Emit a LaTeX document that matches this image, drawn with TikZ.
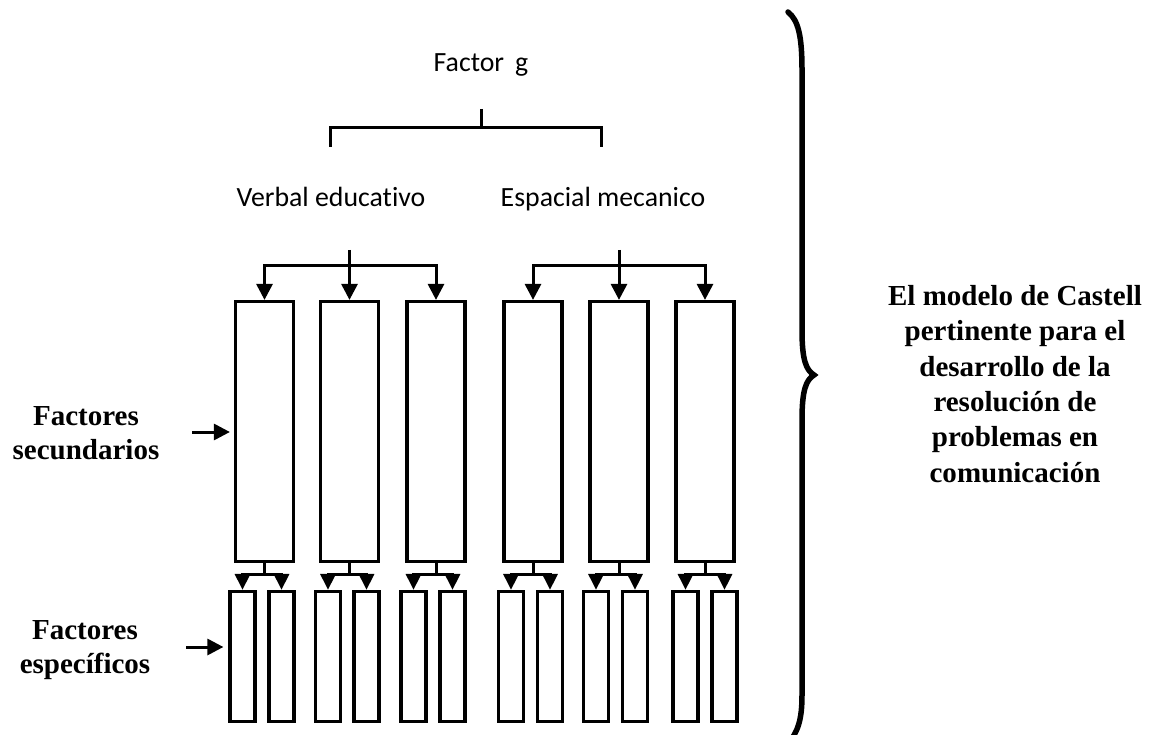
\documentclass[tikz,border=0pt]{standalone}
\usepackage{fontspec}
\setmainfont{Liberation Serif}
\newfontfamily\calibri[Ligatures=NoCommon]{Carlito}
\usetikzlibrary{arrows.meta}

\begin{document}
\begin{tikzpicture}[x=1pt, y=-1pt,
                factor/.style={font=\calibri\fontsize{27.8}{33}\selectfont, inner sep=0pt, anchor=base},
                etiqueta/.style={font=\bfseries\fontsize{29}{34}\selectfont, align=center, inner sep=0pt},
                secundario/.style={draw, line width=3.2pt, minimum width=58pt, minimum height=260pt, inner sep=0pt},
                especifico/.style={draw, line width=3.2pt, minimum width=25pt, minimum height=130pt, inner sep=0pt},
                linea/.style={line width=3pt},
                flecha/.style={line width=3pt, -{Triangle[length=16pt, width=16pt]}},
                flechita/.style={line width=3pt, -{Triangle[length=16pt, width=15pt]}}
            ]
            \useasboundingbox (0,0) rectangle (1154,735);

            % factor g y sus dos ramas
            \node[factor] (g) at (481,72) {Factor\hspace{0.4em}g};
            \node[factor] (verbal) at (331,207) {Verbal educativo};
            \node[factor] (espacial) at (603,207) {Espacial mecanico};
            \coordinate (gtallo) at (481,109);
            \coordinate (vpata) at (330,147);
            \coordinate (epata) at (601,147);
            \draw[linea] (gtallo) -- ++(0,19);
            \draw[linea] (vpata) -- ++(0,-19) -| (epata);

            % factores secundarios
            \node[secundario] (v1) at (264.5,431.5) {};
            \node[secundario] (v2) at (349.5,431.5) {};
            \node[secundario] (v3) at (436,431.5) {};
            \node[secundario] (e1) at (533,431.5) {};
            \node[secundario] (e2) at (619,431.5) {};
            \node[secundario] (e3) at (705,431.5) {};

            % factores especificos
            \node[especifico] (v1a) at (242.5,656.5) {};
            \node[especifico] (v1b) at (281.5,656.5) {};
            \node[especifico] (v2a) at (328,656.5) {};
            \node[especifico] (v2b) at (366.5,656.5) {};
            \node[especifico] (v3a) at (413.5,656.5) {};
            \node[especifico] (v3b) at (452.5,656.5) {};
            \node[especifico] (e1a) at (511,656.5) {};
            \node[especifico] (e1b) at (550,656.5) {};
            \node[especifico] (e2a) at (596,656.5) {};
            \node[especifico] (e2b) at (635,656.5) {};
            \node[especifico] (e3a) at (685.5,656.5) {};
            \node[especifico] (e3b) at (724.5,656.5) {};

            \coordinate (vtallo) at (349.5,250);
            \coordinate (etallo) at (619,250);
            \draw[flecha] (vtallo) -- (v2.north);
            \draw[flecha] (vtallo) ++(0,16) -| (v1.north);
            \draw[flecha] (vtallo) ++(0,16) -| (v3.north);
            \draw[flecha] (etallo) -- (e2.north);
            \draw[flecha] (etallo) ++(0,16) -| (e1.north);
            \draw[flecha] (etallo) ++(0,16) -| (e3.north);

            \draw[flechita] (v1.south) -- ++(0,11) -| (v1a.north);
            \draw[flechita] (v1.south) -- ++(0,11) -| (v1b.north);
            \draw[flechita] (v2.south) -- ++(0,11) -| (v2a.north);
            \draw[flechita] (v2.south) -- ++(0,11) -| (v2b.north);
            \draw[flechita] (v3.south) -- ++(0,11) -| (v3a.north);
            \draw[flechita] (v3.south) -- ++(0,11) -| (v3b.north);
            \draw[flechita] (e1.south) -- ++(0,11) -| (e1a.north);
            \draw[flechita] (e1.south) -- ++(0,11) -| (e1b.north);
            \draw[flechita] (e2.south) -- ++(0,11) -| (e2a.north);
            \draw[flechita] (e2.south) -- ++(0,11) -| (e2b.north);
            \draw[flechita] (e3.south) -- ++(0,11) -| (e3a.north);
            \draw[flechita] (e3.south) -- ++(0,11) -| (e3b.north);

            % etiquetas de la izquierda
            \node[etiqueta] (secundarios) at (86,433) {Factores\\secundarios};
            \node[etiqueta] (especificos) at (85,650) {Factores\\específicos};
            \coordinate (seccola) at (192,432);
            \coordinate (espcola) at (186,647);
            \draw[flecha, shorten >=4pt] (seccola) -- (seccola -| v1.west);
            \draw[flecha, shorten >=5pt] (espcola) -- (espcola -| v1a.west);

            % llave y texto final
            \draw[line width=5.5pt, line cap=round] (788,12) .. controls (798,20) and (802,35) .. (802,70)
                -- (802,330) .. controls (802,360) and (806,370) .. (814,375)
                .. controls (806,380) and (802,390) .. (802,420)
                -- (802,695) .. controls (802,720) and (798,732) .. (787,745);
            \node[etiqueta, font=\bfseries\fontsize{29}{35.3}\selectfont] (castell) at (1015,384)
                {El modelo de Castell\\pertinente para el\\desarrollo de la\\resolución de\\problemas en\\comunicación};
        \end{tikzpicture}
\end{document}
